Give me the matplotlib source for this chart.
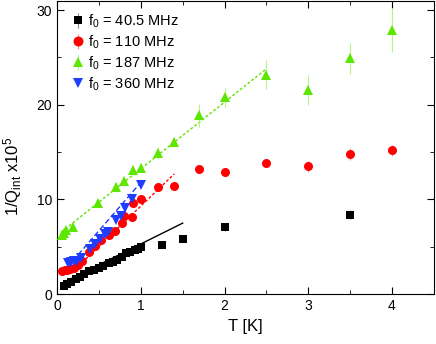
import matplotlib
matplotlib.use('Agg')
from matplotlib import pyplot as plt
from matplotlib.ticker import MultipleLocator

plt.rcParams['font.family'] = ['Liberation Sans', 'DejaVu Sans']
plt.rcParams['mathtext.fontset'] = 'custom'
plt.rcParams['mathtext.rm'] = 'Liberation Sans'
plt.rcParams['mathtext.it'] = 'Liberation Sans'

# f0 = 40.5 MHz
t_black = [0.08, 0.12, 0.17, 0.22, 0.27, 0.32, 0.38, 0.44, 0.5, 0.55, 0.62, 0.67, 0.72,
           0.77, 0.82, 0.87, 0.93, 0.97, 1.0, 1.25, 1.5, 2.0, 3.5]
q_black = [0.9, 1.1, 1.3, 1.6, 1.8, 2.1, 2.4, 2.6, 2.8, 3.0, 3.3, 3.4, 3.6,
           3.9, 4.3, 4.4, 4.7, 4.8, 5.0, 5.2, 5.8, 7.1, 8.4]
e_black = [0] * 18 + [0.3, 0.2, 0.2, 0.4, 0.5]

# f0 = 110 MHz
t_red = [0.06, 0.09, 0.12, 0.15, 0.2, 0.25, 0.3, 0.38, 0.45, 0.53, 0.62, 0.69, 0.77, 0.8,
         0.89, 0.91, 1.0, 1.2, 1.4, 1.7, 2.0, 2.5, 3.0, 3.5, 4.0]
q_red = [2.4, 2.5, 2.6, 2.7, 2.8, 3.1, 3.5, 4.4, 5.1, 5.7, 6.2, 6.7, 7.5, 8.3,
         8.1, 9.6, 10.0, 11.3, 11.4, 13.2, 12.9, 13.8, 13.5, 14.8, 15.2]
e_red = [0] * 17 + [0.2, 0.2, 0.4, 0.3, 0.4, 0.6, 0.6, 0.6]

# f0 = 187 MHz
t_green = [0.06, 0.08, 0.11, 0.19, 0.49, 0.7, 0.8, 0.91, 1.0, 1.21, 1.4, 1.7, 2.0,
           2.5, 3.0, 3.5, 4.0]
q_green = [6.2, 6.5, 6.8, 7.1, 9.6, 11.3, 11.9, 13.1, 13.3, 14.9, 16.1, 18.9, 20.8,
           23.2, 21.6, 24.9, 27.9]
e_green = [0, 0, 0, 0, 0.5, 0.5, 0.5, 0.5, 0.5, 0.6, 0.55, 1.2, 1.0,
           1.55, 1.6, 1.6, 2.3]

# f0 = 360 MHz
t_blue = [0.13, 0.16, 0.2, 0.24, 0.29, 0.39, 0.45, 0.51, 0.57, 0.61, 0.7, 0.76, 0.81, 0.9, 1.0]
q_blue = [3.3, 3.4, 3.5, 3.5, 3.8, 4.8, 5.3, 5.8, 6.3, 6.6, 7.8, 8.3, 9.1, 10.1, 11.5]

# linear fits: (T start, T end, slope, intercept)
fit_black = (0.08, 1.5, 4.4, 0.9)
fit_red = (0.3, 1.4, 8.5, 0.8)
fit_green = (0.05, 2.5, 7.04, 6.2)
fit_blue = (0.12, 1.0, 10.2, 1.6)

c_black = '#000000'
c_red = '#ff0000'
c_green = '#5ce600'
c_blue = '#1f3dff'

fig = plt.figure(figsize=(4.36, 3.44), dpi=100)
ax = fig.add_axes([0.131, 0.145, 0.864, 0.853])

def fit_line(f, color, ls):
    t0, t1, a, b = f
    ax.plot([t0, t1], [a * t0 + b, a * t1 + b], color=color, linestyle=ls, lw=1.0, zorder=1)

fit_line(fit_black, c_black, '-')
fit_line(fit_red, c_red, (0, (2, 1.5)))
fit_line(fit_green, c_green, (0, (2, 1.5)))
fit_line(fit_blue, c_blue, (0, (4, 2)))

ax.errorbar(t_black, q_black, yerr=e_black, fmt='s', color=c_black, ms=5.5, mew=0,
            ecolor='#888888', elinewidth=0.8, capsize=2, capthick=0.8, label='f$_0$ = 40.5 MHz', zorder=3)
ax.errorbar(t_red, q_red, yerr=e_red, fmt='o', color=c_red, ms=6.5, mew=0,
            ecolor='#ff9090', elinewidth=0.8, capsize=2, capthick=0.8, label='f$_0$ = 110 MHz', zorder=3)
ax.errorbar(t_green, q_green, yerr=e_green, fmt='^', color=c_green, ms=6.5, mew=0,
            ecolor='#b5f28c', elinewidth=0.8, capsize=2.5, capthick=0.8, label='f$_0$ = 187 MHz', zorder=3)
ax.errorbar(t_blue, q_blue, fmt='v', color=c_blue, ms=6.5, mew=0,
            label='f$_0$ = 360 MHz', zorder=3)

ax.set_xlim(0, 4.5)
ax.set_ylim(0, 31)
ax.xaxis.set_major_locator(MultipleLocator(1))
ax.xaxis.set_minor_locator(MultipleLocator(0.5))
ax.yaxis.set_major_locator(MultipleLocator(10))
ax.yaxis.set_minor_locator(MultipleLocator(5))
ax.tick_params(which='both', direction='in', top=True, right=True, labelsize=10)
ax.tick_params(which='major', length=5)
ax.tick_params(which='minor', length=3)

ax.set_xlabel('T [K]', fontsize=12)
ax.set_ylabel('1/Q$_{int}$ x10$^5$', fontsize=12)
ax.yaxis.set_label_coords(-0.088, 0.40)

ax.legend(loc='upper left', frameon=False, fontsize=10.5, handletextpad=0.1,
          handlelength=1.2, labelspacing=0.25, borderaxespad=0.4, markerscale=1.1)

fig.savefig('out.png', dpi=100)
